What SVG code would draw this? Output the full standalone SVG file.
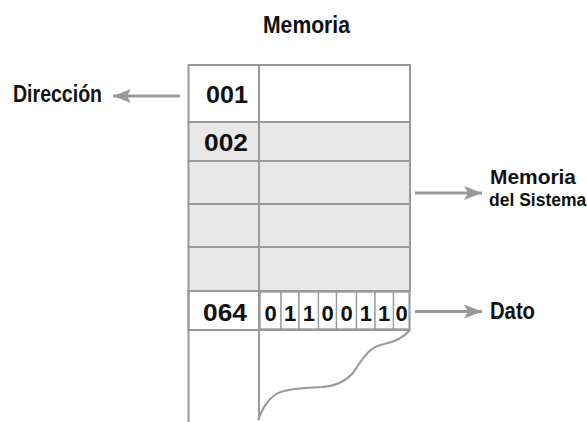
<svg xmlns="http://www.w3.org/2000/svg" width="587" height="422" viewBox="0 0 587 422">
<style>
.t{font-family:"Liberation Sans",Arial,sans-serif;font-weight:bold;font-size:23px;fill:#111}
.c{font-family:"Liberation Sans",Arial,sans-serif;font-weight:bold;font-size:22px;fill:#111;text-anchor:middle}
.s{font-family:"Liberation Sans",Arial,sans-serif;font-weight:bold;font-size:20px;fill:#111}
.s2{font-family:"Liberation Sans",Arial,sans-serif;font-weight:bold;font-size:17.5px;fill:#111}
.cell{stroke:#999;stroke-width:2}
.w{fill:#fff}
.g{fill:#e8e8e8}
.ln{stroke:#999;stroke-width:2;fill:none}
.bit{fill:#fff;stroke:#999;stroke-width:1.3}
.arr{stroke:#999;stroke-width:3;fill:none}
</style>
<defs>
<marker id="ah" markerUnits="userSpaceOnUse" markerWidth="20" markerHeight="16" refX="18" refY="8" orient="auto">
<path d="M0,1 L18,8 L0,15 L4,8 Z" fill="#999"/>
</marker>
</defs>
<rect width="587" height="422" fill="#fff"/>
<g id="title"><text class="t" x="263" y="32.5" textLength="87" lengthAdjust="spacingAndGlyphs">Memoria</text></g>
<g id="table">
<g id="row001"><rect class="cell w" x="188.5" y="65" width="70.5" height="57"/><rect class="cell w" x="259" y="65" width="151" height="57"/><text class="t" x="206" y="103" textLength="42" lengthAdjust="spacingAndGlyphs">001</text></g>
<g id="row002"><rect class="cell g" x="188.5" y="122" width="70.5" height="39"/><rect class="cell g" x="259" y="122" width="151" height="39"/><text class="t" x="204" y="150.5" textLength="44" lengthAdjust="spacingAndGlyphs">002</text></g>
<g id="row3"><rect class="cell g" x="188.5" y="161" width="70.5" height="43"/><rect class="cell g" x="259" y="161" width="151" height="43"/></g>
<g id="row4"><rect class="cell g" x="188.5" y="204" width="70.5" height="43"/><rect class="cell g" x="259" y="204" width="151" height="43"/></g>
<g id="row5"><rect class="cell g" x="188.5" y="247" width="70.5" height="44"/><rect class="cell g" x="259" y="247" width="151" height="44"/></g>
<g id="row064"><rect class="cell w" x="188.5" y="291" width="70.5" height="39"/><text class="t" x="203" y="320.5" textLength="44" lengthAdjust="spacingAndGlyphs">064</text>
<rect class="bit" x="260" y="292" width="21" height="37"/><rect class="bit" x="281" y="292" width="18" height="37"/><rect class="bit" x="299" y="292" width="19.5" height="37"/><rect class="bit" x="318.5" y="292" width="18" height="37"/><rect class="bit" x="336.5" y="292" width="20" height="37"/><rect class="bit" x="356.5" y="292" width="18.5" height="37"/><rect class="bit" x="375" y="292" width="18.5" height="37"/><rect class="bit" x="393.5" y="292" width="16" height="37"/>
<text class="c" x="270.5" y="320.5">0</text><text class="c" x="290" y="320.5">1</text><text class="c" x="308.8" y="320.5">1</text><text class="c" x="327.5" y="320.5">0</text><text class="c" x="346.5" y="320.5">0</text><text class="c" x="365.8" y="320.5">1</text><text class="c" x="384.2" y="320.5">1</text><text class="c" x="401.5" y="320.5">0</text>
<rect class="ln" x="188.5" y="291" width="221" height="39"/></g>
<g id="rest"><path class="ln" d="M188.5,330 V422 M259,330 V420"/><path class="ln" d="M410,330 C405,336 398,341 384,344 C368,347 362,360 353,373 C345,382 336,386 322,387 C300,388 286,389 276,394 C266,401 262,410 258,420"/></g>
</g>
<g id="labels">
<text class="s" x="490" y="184" textLength="86" lengthAdjust="spacingAndGlyphs">Memoria</text>
<text class="s2" x="489" y="206">del Sistema</text>
<text class="t" x="13" y="101.5" textLength="89" lengthAdjust="spacingAndGlyphs">Dirección</text>
<text class="t" x="490" y="318.5" textLength="45" lengthAdjust="spacingAndGlyphs">Dato</text>
</g>
<g id="connectors">
<line class="arr" x1="180" y1="96" x2="113" y2="96" marker-end="url(#ah)"/>
<line class="arr" x1="415" y1="193" x2="482" y2="193" marker-end="url(#ah)"/>
<line class="arr" x1="415" y1="311.5" x2="482" y2="311.5" marker-end="url(#ah)"/>
</g>
</svg>
